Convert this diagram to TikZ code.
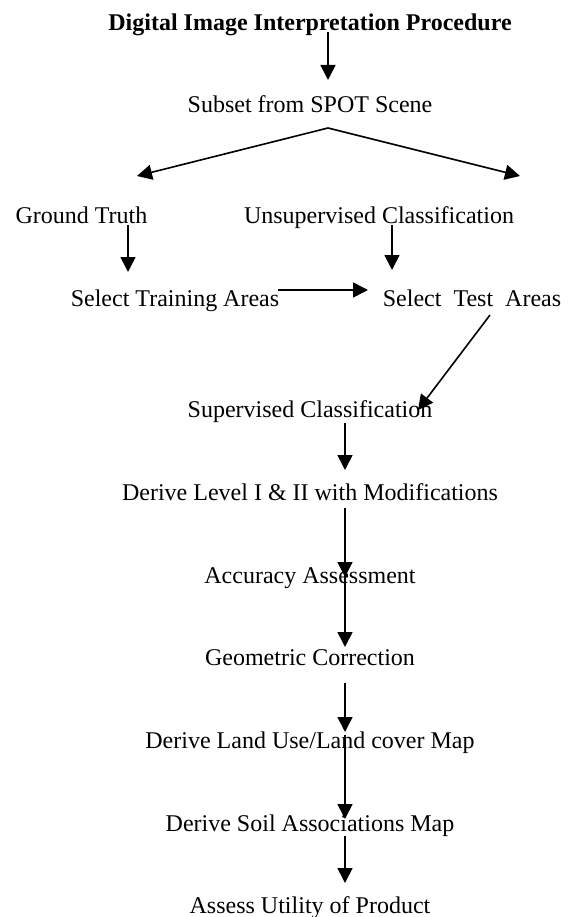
\documentclass[tikz,border=0pt]{standalone}
\usepackage{fontspec}
\setmainfont{Liberation Serif}
\usetikzlibrary{arrows.meta}

\begin{document}
\begin{tikzpicture}[x=1pt,y=-1pt,
        lbl/.style={anchor=base,inner sep=0pt,font=\fontsize{24}{28}\selectfont},
        flow/.style={-{Triangle[width=15pt,length=15pt]},line width=1.6pt}]
                \useasboundingbox (0,0) rectangle (570,917);

                \node[lbl,font=\fontsize{24}{28}\selectfont\bfseries] (title) at (310,31) {Digital Image Interpretation Procedure};
                \node[lbl] (subset) at (310,113) {Subset from SPOT Scene};
                \node[lbl] (ground) at (81.5,223) {Ground Truth};
                \node[lbl] (unsup) at (379,223) {Unsupervised Classification};
                \node[lbl] (train) at (175,306) {Select Training Areas};
                \node[lbl] (test) at (472,306) {Select~~Test~~Areas};
                \node[lbl] (superv) at (310,417) {Supervised Classification};
                \node[lbl] (level) at (310,500) {Derive Level I \& II with Modifications};
                \node[lbl] (acc) at (310,583) {Accuracy Assessment};
                \node[lbl] (geo) at (310,665) {Geometric Correction};
                \node[lbl] (landuse) at (310,748) {Derive Land Use/Land cover Map};
                \node[lbl] (soil) at (310,831) {Derive Soil Associations Map};
                \node[lbl] (assess) at (310,913) {Assess Utility of Product};

                \draw[flow] ([shift={(18,1)}]title.base) -- ([shift={(18,-33)}]subset.base);
                \draw[flow] ([shift={(18,15)}]subset.base) -- ([shift={(55.5,-47)}]ground.base);
                \draw[flow] ([shift={(18,15)}]subset.base) -- ([shift={(141,-47)}]unsup.base);
                \draw[flow] ([shift={(46.5,2)}]ground.base) -- ([shift={(-47,-34)}]train.base);
                \draw[flow] ([shift={(13,2)}]unsup.base) -- ([shift={(-80,-36)}]test.base);
                \draw[flow] ([shift={(103,-16)}]train.base) -- ([shift={(-104,-16)}]test.base);
                \draw[flow] ([shift={(18,9)}]test.base) -- ([shift={(108,-7)}]superv.base);
                \draw[flow] ([shift={(35,6)}]superv.base) -- ([shift={(35,-30)}]level.base);
                \draw[flow] ([shift={(35,8)}]level.base) -- ([shift={(35,-6)}]acc.base);
                \draw[flow] ([shift={(35,-8)}]acc.base) -- ([shift={(35,-18)}]geo.base);
                \draw[flow] ([shift={(35,18)}]geo.base) -- ([shift={(35,-16)}]landuse.base);
                \draw[flow] ([shift={(35,-13)}]landuse.base) -- ([shift={(35,-12)}]soil.base);
                \draw[flow] ([shift={(35,5)}]soil.base) -- ([shift={(35,-30)}]assess.base);
\end{tikzpicture}
\end{document}
